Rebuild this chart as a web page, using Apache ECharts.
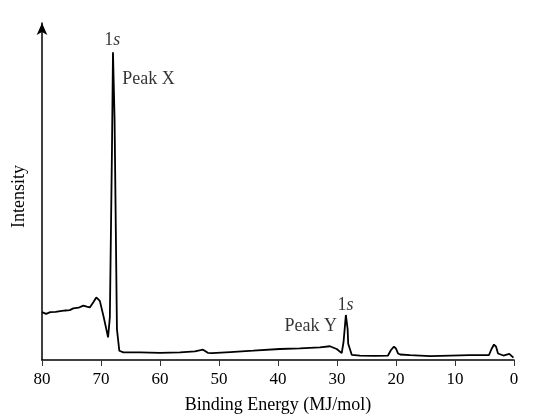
<!DOCTYPE html>
<html>
<head>
<meta charset="utf-8">
<script src="https://cdn.jsdelivr.net/npm/echarts@6/dist/echarts.min.js"></script>
<style>html,body{margin:0;padding:0;background:#fff}#c{width:550px;height:419px}</style>
</head>
<body>
<div id="c"></div>
<script>
// Binding energy (MJ/mol) and relative intensity
const energy = [80.0, 79.3, 78.6, 77.7, 76.9, 76.0, 75.3, 74.7, 73.8, 73.0, 72.4, 71.9, 71.3, 70.8, 70.2, 69.6, 68.8, 68.5, 68.14, 67.97, 67.7, 67.3, 67.1, 66.9, 66.2, 63.4, 60.0, 56.6, 54.1, 52.7, 51.9, 51.2, 48.1, 44.2, 39.7, 36.3, 32.9, 31.2, 30.05, 29.2, 28.9, 28.7, 28.5, 28.2, 28.1, 27.8, 27.5, 26.1, 23.6, 21.36, 20.85, 20.34, 20.0, 19.66, 19.3, 17.6, 14.2, 10.8, 7.5, 4.24, 3.81, 3.39, 3.05, 2.71, 1.8, 0.8, 0.1];
const intensity = [13.9, 13.4, 13.9, 14.0, 14.2, 14.4, 14.5, 15.0, 15.2, 15.8, 15.5, 15.3, 16.8, 18.2, 17.2, 12.9, 6.6, 12.4, 61.3, 89.5, 70.0, 9.0, 8.5, 2.7, 2.2, 2.2, 2.1, 2.2, 2.5, 3.0, 2.1, 2.0, 2.3, 2.7, 3.2, 3.4, 3.7, 4.0, 3.2, 2.0, 5.1, 9.0, 13.1, 9.0, 4.7, 4.2, 1.5, 1.25, 1.2, 1.3, 2.9, 3.9, 3.3, 1.9, 1.6, 1.4, 1.1, 1.25, 1.4, 1.45, 3.2, 4.5, 3.9, 1.9, 1.3, 1.8, 0.7];
const xTicks = [0, 10, 20, 30, 40, 50, 60, 70, 80];
// Annotations (text anchored in data space)
const labelTexts = ['1s', 'Peak X', '1s', 'Peak Y'];
const labelEnergy = [68.1, 66.4, 28.56, 30.0];
const labelIntensity = [93.0, 81.7, 16.0, 9.9];

const font = '"Liberation Serif", "DejaVu Serif", serif';
const chart = echarts.init(document.getElementById('c'));

const lineData = energy.map((e, i) => [e, intensity[i]]);
const rich = {
  n: {fontFamily: font, fontSize: 18, color: '#000'},
  i: {fontFamily: font, fontSize: 18, color: '#000', fontStyle: 'italic'}
};
const anchors = ['center', 'right', 'center', 'left'];
const annData = labelTexts.map((t, k) => ({
  value: [labelEnergy[k], labelIntensity[k]],
  label: {
    show: true,
    position: 'inside',
    align: anchors[k] === 'right' ? 'left' : (anchors[k] === 'left' ? 'right' : 'center'),
    verticalAlign: 'middle',
    formatter: t === '1s' ? '{n|1}{i|s}' : '{n|' + t + '}',
    rich: rich
  }
}));

chart.setOption({
  backgroundColor: '#fff',
  animation: false,
  grid: {left: 42, right: 36, top: 23, bottom: 58},
  xAxis: {
    type: 'value',
    inverse: true,
    min: 0, max: 80, interval: 10,
    name: 'Binding Energy (MJ/mol)',
    nameLocation: 'middle',
    nameGap: 36,
    nameTextStyle: {fontFamily: font, fontSize: 18, color: '#000'},
    axisLine: {lineStyle: {color: '#000', width: 1.5}},
    axisTick: {show: true, length: 6, lineStyle: {color: '#333', width: 1}},
    axisLabel: {fontFamily: font, fontSize: 17, color: '#000', margin: 11,
      formatter: v => xTicks.includes(v) ? String(v) : ''},
    splitLine: {show: false}
  },
  yAxis: {
    type: 'value',
    position: 'left',
    min: 0, max: 98,
    name: 'Intensity',
    nameLocation: 'middle',
    nameGap: 14,
    nameTextStyle: {fontFamily: font, fontSize: 18, color: '#000', padding: [0, 10, 0, 0]},
    axisLine: {show: true, onZero: false, symbol: ['none', 'arrow'], symbolSize: [8, 12],
      lineStyle: {color: '#000', width: 1.5}},
    axisTick: {show: false},
    axisLabel: {show: false},
    splitLine: {show: false}
  },
  series: [
    {
      type: 'line',
      data: lineData,
      showSymbol: false,
      symbol: 'none',
      smooth: false,
      lineStyle: {color: '#000', width: 1.8},
      z: 3
    },
    {
      type: 'scatter',
      data: annData,
      symbolSize: 0,
      itemStyle: {color: 'transparent'},
      silent: true,
      z: 4
    }
  ]
});
</script>
</body>
</html>
